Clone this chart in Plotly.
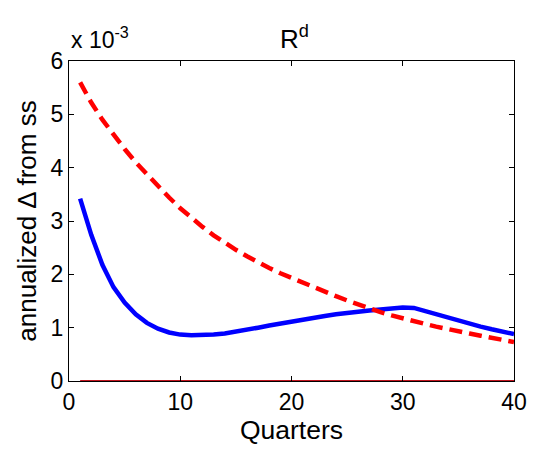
import plotly.graph_objects as go

quarters = list(range(1, 41))
# values in units of 1e-3
blue_vals = [3.42, 2.74, 2.18, 1.76, 1.47, 1.25, 1.09, 0.98, 0.91, 0.87,
             0.86, 0.86, 0.87, 0.89, 0.92, 0.96, 1.00, 1.04, 1.08, 1.12,
             1.16, 1.19, 1.22, 1.25, 1.28, 1.30, 1.32, 1.34, 1.36, 1.38,
             1.37, 1.31, 1.25, 1.18, 1.12, 1.07, 1.02, 0.97, 0.92, 0.88]
red_vals = [5.60, 5.22, 4.90, 4.62, 4.35, 4.10, 3.87, 3.65, 3.44, 3.24,
            3.06, 2.89, 2.73, 2.59, 2.46, 2.34, 2.22, 2.12, 2.02, 1.93,
            1.84, 1.75, 1.67, 1.59, 1.51, 1.43, 1.36, 1.29, 1.23, 1.17,
            1.12, 1.07, 1.02, 0.97, 0.93, 0.89, 0.85, 0.81, 0.77, 0.73]
zero_vals = [0.0] * 40
scale = 1e-3
x_ticks = [0, 10, 20, 30, 40]
y_ticks = [0, 1, 2, 3, 4, 5, 6]

FAM = "Liberation Sans, Arial, sans-serif"


def f(size):
    return dict(family=FAM, size=size, color="black")


fig = go.Figure()
fig.add_trace(go.Scatter(x=quarters, y=[v * scale for v in zero_vals], mode="lines",
                         line=dict(color="#c0141e", width=2), showlegend=False))
fig.add_trace(go.Scatter(x=quarters, y=[v * scale for v in blue_vals], mode="lines",
                         line=dict(color="#0000ff", width=4.5), showlegend=False))
fig.add_trace(go.Scatter(x=quarters, y=[v * scale for v in red_vals], mode="lines",
                         line=dict(color="#ff0000", width=4.5, dash="13px,7px"), showlegend=False))

fig.update_layout(
    width=539, height=450,
    margin=dict(l=69, r=19, t=61, b=69),
    paper_bgcolor="white", plot_bgcolor="white",
    font=f(22),
    title=dict(text="R<sup>d</sup>", x=(69 + 520) / 2 / 539, xanchor="center",
               y=1 - 48 / 450, yanchor="bottom", font=f(26)),
    xaxis=dict(range=[0, 40], tickvals=x_ticks, ticktext=[str(t) for t in x_ticks],
               ticks="inside", ticklen=5, tickcolor="black", mirror="ticks",
               showline=True, linecolor="black", linewidth=1.2, showgrid=False,
               zeroline=False, title=dict(text="Quarters", standoff=0, font=f(26.5)),
               tickfont=f(23)),
    yaxis=dict(range=[0, 6 * scale], tickvals=[t * scale for t in y_ticks],
               ticktext=[str(t) for t in y_ticks],
               ticks="inside", ticklen=5, tickcolor="black", mirror="ticks",
               showline=True, linecolor="black", linewidth=1.2, showgrid=False,
               zeroline=False, title=dict(text="annualized Δ from ss", standoff=6, font=f(26)),
               tickfont=f(23)),
    annotations=[dict(text="x 10<sup>-3</sup>", xref="paper", yref="paper",
                      x=0, y=1, xanchor="left", yanchor="bottom", yshift=6,
                      showarrow=False, font=f(23))],
)

fig.write_html("out.html")
